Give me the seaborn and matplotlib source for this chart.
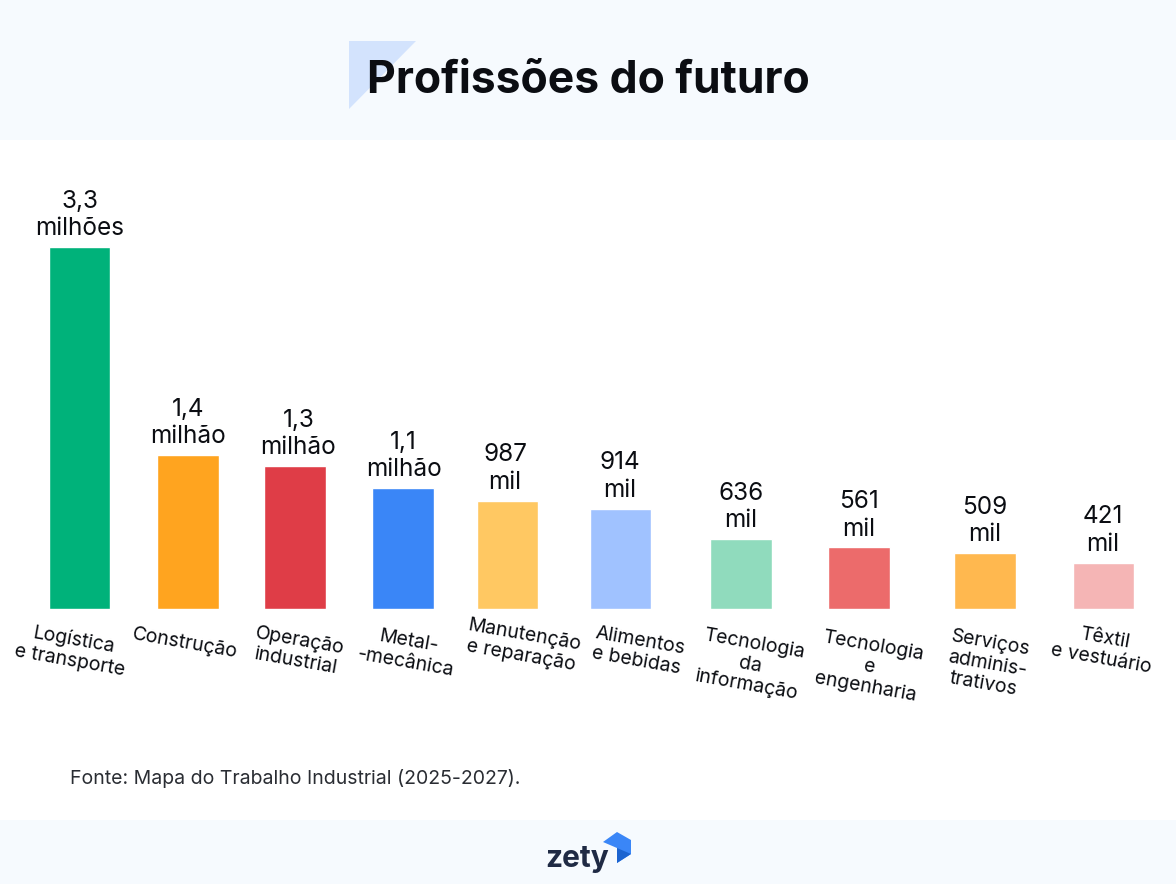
import matplotlib
matplotlib.use('Agg')
import matplotlib.pyplot as plt
from matplotlib.patches import Polygon, Rectangle
import seaborn as sns

# dados
categorias = ['Logística\ne transporte', 'Construção', 'Operação\nindustrial', 'Metal-\n-mecânica',
              'Manutenção\ne reparação', 'Alimentos\ne bebidas', 'Tecnologia\nda\ninformação',
              'Tecnologia\ne\nengenharia', 'Serviços\nadminis-\ntrativos', 'Têxtil\ne vestuário']
valores = [3300, 1400, 1300, 1100, 987, 914, 636, 561, 509, 421]
rotulos = ['3,3\nmilhões', '1,4\nmilhão', '1,3\nmilhão', '1,1\nmilhão', '987\nmil',
           '914\nmil', '636\nmil', '561\nmil', '509\nmil', '421\nmil']
cores = ['#00B27A', '#FFA41F', '#DF3D47', '#3A86F7', '#FFC862',
         '#A0C2FF', '#90DBBD', '#EC6B6B', '#FFB84F', '#F5B5B5']

# posicoes em pixels (as barras nao sao equidistantes no original)
centros = [79.7, 188.2, 295.2, 403.2, 507.7, 620.7, 741.2, 859.2, 985.2, 1103.7]
centros_rotulo = [80, 188.5, 298.5, 403.5, 505, 620, 741, 859, 985, 1103]
pos_categoria = [(72, 650), (185, 643), (298, 651), (407, 652), (523, 645),
                 (638, 651), (750, 665), (869, 667), (987, 664), (1103, 649)]

W, H = 1176, 884
BASE = 609
PX_POR_MIL = 362 / 3300

sns.set_theme(style='white')
plt.rcParams['font.family'] = ['Inter', 'DejaVu Sans']

fig = plt.figure(figsize=(W / 100, H / 100), dpi=100, facecolor='white')

# camada de fundo em pixels
bg = fig.add_axes([0, 0, 1, 1])
bg.set_xlim(0, W)
bg.set_ylim(H, 0)
bg.axis('off')
bg.add_patch(Rectangle((0, 0), W, 140, color='#F6FAFE', lw=0))
bg.add_patch(Rectangle((0, 820), W, 64, color='#F6FAFE', lw=0))
bg.add_patch(Polygon([(349, 41), (416, 41), (349, 109)], color='#D3E3FD', lw=0))
bg.text(588, 81, 'Profissões do futuro', ha='center', va='center', fontsize=32,
        fontweight='bold', color='#0B0D12')
bg.text(70, 778, 'Fonte: Mapa do Trabalho Industrial (2025-2027).', ha='left', va='center',
        fontsize=14, color='#2A2D33')

# logo
bg.text(577, 859, 'zety', ha='center', va='center', fontsize=21.5, fontweight='bold', color='#1F2A44')
bg.add_patch(Polygon([(603, 842), (617, 832), (631, 840), (631, 854), (617, 863), (617, 848)],
                     color='#3A86F7', lw=0))
bg.add_patch(Polygon([(617, 848), (631, 854), (617, 863)], color='#1C64D0', lw=0))

# grafico
ax = fig.add_axes([0, (H - BASE) / H, 1, (BASE - 140) / H])
ax.patch.set_alpha(0)
sns.barplot(x=centros, y=valores, hue=centros, palette=dict(zip(centros, cores)), legend=False,
            native_scale=True, dodge=False, width=61.5 / 104.5, saturation=1, ax=ax)
ax.set_xlim(0, W)
ax.set_ylim(0, (BASE - 140) / PX_POR_MIL)
ax.axis('off')

for x, v, r in zip(centros_rotulo, valores, rotulos):
    ax.annotate(r, xy=(x, v), xytext=(0, 5), textcoords='offset points', ha='center', va='bottom',
                fontsize=17.5, color='#0B0D12', linespacing=1.25, annotation_clip=False)

for (x, y), c in zip(pos_categoria, categorias):
    bg.text(x, y, c, ha='center', va='center', rotation=-10, rotation_mode='anchor',
            fontsize=14, color='#0B0D12', linespacing=1.2)

fig.savefig('out.png', dpi=100)
